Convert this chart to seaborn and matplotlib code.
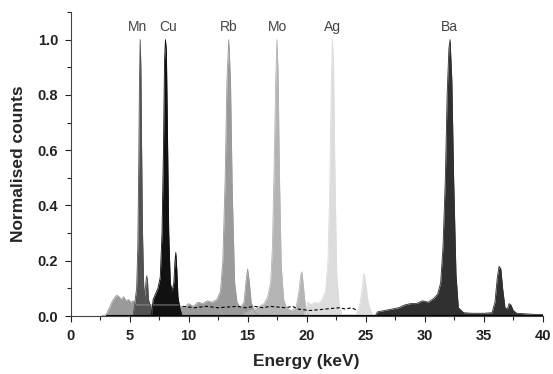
import matplotlib
matplotlib.use("Agg")
import matplotlib.pyplot as plt
import seaborn as sns
import numpy as np
from matplotlib.ticker import MultipleLocator

# Data: energy (keV) and normalised counts
rb_e = [2.6, 3.0, 3.3, 3.5, 3.7, 3.9, 4.1, 4.3, 4.5, 4.7, 4.9, 5.1, 5.3, 5.6, 7.0, 9.2,
        9.6, 10.0, 10.4, 10.8, 11.2, 11.6, 12.0, 12.4, 12.7, 12.9, 13.1, 13.25, 13.4,
        13.55, 13.7, 13.9, 14.1, 14.4, 14.7, 14.85, 15.0, 15.15, 15.3, 15.6, 16.0]
rb_c = [0.0, 0.005, 0.03, 0.05, 0.065, 0.075, 0.07, 0.06, 0.07, 0.055, 0.06, 0.05, 0.055, 0.04, 0.04, 0.04,
        0.03, 0.045, 0.035, 0.05, 0.045, 0.055, 0.05, 0.06, 0.09, 0.2, 0.5, 0.85, 1.0,
        0.85, 0.45, 0.12, 0.05, 0.03, 0.05, 0.12, 0.17, 0.12, 0.05, 0.015, 0.0]

mn_e = [5.3, 5.45, 5.6, 5.7, 5.78, 5.84, 5.9, 5.96, 6.02, 6.1, 6.2, 6.3, 6.38, 6.45, 6.52, 6.6, 6.75, 6.95]
mn_c = [0.0, 0.05, 0.1, 0.25, 0.55, 0.85, 1.0, 0.9, 0.62, 0.3, 0.11, 0.07, 0.12, 0.145, 0.13, 0.06, 0.04, 0.0]

cu_e = [6.85, 7.0, 7.2, 7.4, 7.6, 7.75, 7.88, 7.96, 8.04, 8.12, 8.2, 8.32, 8.45, 8.6, 8.75, 8.85, 8.92,
        9.0, 9.1, 9.25, 9.45]
cu_c = [0.0, 0.06, 0.08, 0.1, 0.14, 0.3, 0.62, 0.92, 1.0, 0.96, 0.7, 0.3, 0.12, 0.09, 0.12, 0.2, 0.23,
        0.17, 0.07, 0.03, 0.0]

mo_e = [14.4, 15.2, 15.6, 16.0, 16.4, 16.7, 16.95, 17.1, 17.25, 17.38, 17.48, 17.58, 17.7, 17.85,
        18.05, 18.3, 18.7, 19.1, 19.35, 19.5, 19.6, 19.72, 19.9, 20.2]
mo_c = [0.0, 0.02, 0.025, 0.035, 0.045, 0.07, 0.12, 0.25, 0.55, 0.85, 1.0, 0.88, 0.5, 0.18,
        0.06, 0.03, 0.02, 0.03, 0.09, 0.15, 0.16, 0.11, 0.03, 0.0]

ag_e = [19.8, 20.1, 20.4, 20.7, 21.0, 21.3, 21.6, 21.8, 21.95, 22.07, 22.18, 22.28, 22.4, 22.55,
        22.75, 23.0, 24.2, 24.5, 24.7, 24.85, 25.0, 25.2, 25.5, 25.8]
ag_c = [0.0, 0.05, 0.04, 0.05, 0.045, 0.06, 0.09, 0.2, 0.45, 0.8, 1.0, 0.9, 0.5, 0.15,
        0.04, 0.005, 0.005, 0.04, 0.1, 0.155, 0.12, 0.05, 0.01, 0.0]

ba_e = [25.8, 26.0, 26.6, 27.2, 27.8, 28.3, 28.8, 29.3, 29.8, 30.3, 30.8, 31.1, 31.35, 31.55, 31.75,
        31.9, 32.05, 32.15, 32.3, 32.45, 32.65, 32.85, 33.3, 34.0, 35.0, 35.7, 35.95, 36.15,
        36.3, 36.45, 36.6, 36.8, 37.0, 37.15, 37.3, 37.5, 37.8, 38.5, 39.3, 40.0]
ba_c = [0.0, 0.015, 0.02, 0.025, 0.03, 0.04, 0.045, 0.045, 0.055, 0.05, 0.065, 0.08, 0.12, 0.25, 0.5,
        0.8, 0.97, 1.0, 0.85, 0.5, 0.15, 0.03, 0.012, 0.01, 0.01, 0.012, 0.05, 0.14,
        0.18, 0.17, 0.1, 0.03, 0.025, 0.045, 0.04, 0.02, 0.01, 0.008, 0.006, 0.005]

# dashed trace near the baseline
tr_e = [9.5, 10.5, 11.5, 12.5, 14.1, 14.8, 15.6, 16.3, 16.9, 18.2, 18.8, 19.3, 20.3, 22.8, 23.3, 23.8, 24.3]
tr_c = [0.035, 0.03, 0.035, 0.03, 0.035, 0.03, 0.035, 0.03, 0.035, 0.03, 0.035, 0.025, 0.02, 0.03, 0.025, 0.03, 0.02]

elements = ["Mn", "Cu", "Rb", "Mo", "Ag", "Ba"]
label_pos = [5.65, 8.3, 13.4, 17.5, 22.2, 32.1]

sns.set_style("ticks")
plt.rcParams['font.family'] = ['Liberation Sans', 'DejaVu Sans']

fig = plt.figure(figsize=(5.53, 3.74), dpi=100)
ax = fig.add_axes([0.1275, 0.155, 0.854, 0.813])

spectra = [(rb_e, rb_c, "#9a9a9a"), (mn_e, mn_c, "#525252"), (cu_e, cu_c, "#111111"),
           (mo_e, mo_c, "#b4b4b4"), (ag_e, ag_c, "#dcdcdc"), (ba_e, ba_c, "#303030")]
for e, c, col in spectra:
    ax.fill_between(e, c, 0, color=col, linewidth=0)
    sns.lineplot(x=e, y=c, color=col, linewidth=0.6, ax=ax, sort=False)

sns.lineplot(x=tr_e, y=tr_c, color="black", linewidth=0.8, linestyle=(0, (3, 2)), ax=ax, sort=False)
ax.plot([3, 40], [0.003, 0.003], color="black", linewidth=0.8)

for name, xp in zip(elements, label_pos):
    ax.text(xp, 1.032, name, ha="center", va="baseline", fontsize=10, color="#444444")

ax.set_xlim(0, 40)
ax.set_ylim(0, 1.1)
ax.xaxis.set_major_locator(MultipleLocator(5))
ax.xaxis.set_minor_locator(MultipleLocator(2.5))
ax.yaxis.set_minor_locator(MultipleLocator(0.1))
ax.set_yticks([0, 0.2, 0.4, 0.6, 0.8, 1.0])
ax.set_yticklabels(["0.0", "0.2", "0.4", "0.6", "0.8", "1.0"])
ax.tick_params(which="major", direction="out", length=4, width=0.8, labelsize=10.5, colors="#222222", pad=5)
ax.tick_params(which="minor", direction="out", length=3, width=0.8)
for lab in ax.get_xticklabels() + ax.get_yticklabels():
    lab.set_fontweight("bold")
sns.despine(ax=ax)
for s in ["left", "bottom"]:
    ax.spines[s].set_color("#444444")
    ax.spines[s].set_linewidth(0.8)

ax.set_xlabel("Energy (keV)", fontsize=12.5, fontweight="bold", labelpad=8)
ax.set_ylabel("Normalised counts", fontsize=12.5, fontweight="bold", labelpad=8)

fig.savefig("out.png", dpi=100)
